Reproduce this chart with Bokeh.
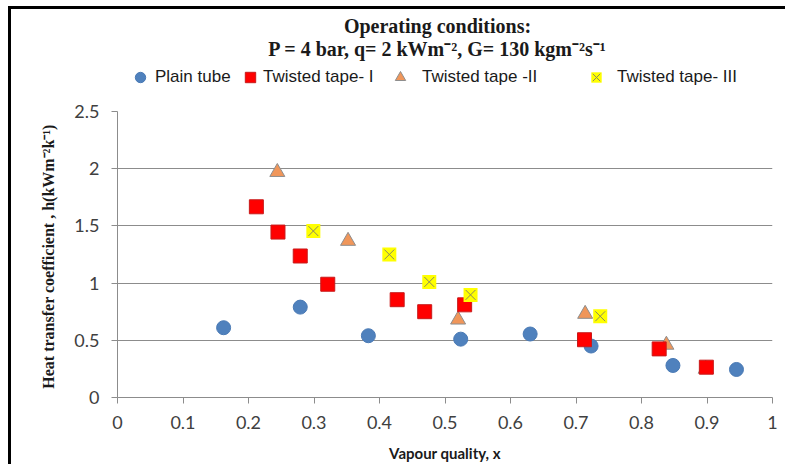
from bokeh.plotting import figure
from bokeh.models import FixedTicker, Legend, LegendItem, Label, Range1d
from bokeh.layouts import column
from bokeh.embed import file_html
from bokeh.resources import INLINE

# ---- data ----
plain_x = [0.162, 0.279, 0.383, 0.524, 0.630, 0.723, 0.848, 0.945]
plain_y = [0.61, 0.79, 0.54, 0.51, 0.555, 0.45, 0.28, 0.245]

tt1_x = [0.212, 0.245, 0.279, 0.321, 0.427, 0.469, 0.530, 0.713, 0.827, 0.899]
tt1_y = [1.667, 1.446, 1.237, 0.99, 0.855, 0.75, 0.81, 0.505, 0.425, 0.265]

tt2_x = [0.244, 0.352, 0.520, 0.714, 0.838, 0.898]
tt2_y = [1.97, 1.368, 0.68, 0.73, 0.46, 0.25]

tt3_x = [0.299, 0.415, 0.476, 0.539, 0.737]
tt3_y = [1.455, 1.25, 1.01, 0.897, 0.71]

x_ticks = [0, 0.1, 0.2, 0.3, 0.4, 0.5, 0.6, 0.7, 0.8, 0.9, 1.0]
x_tick_labels = ["0", "0.1", "0.2", "0.3", "0.4", "0.5", "0.6", "0.7", "0.8", "0.9", "1"]
y_ticks = [0, 0.5, 1.0, 1.5, 2.0, 2.5]
y_tick_labels = ["0", "0.5", "1", "1.5", "2", "2.5"]

series_names = ["Plain tube", "Twisted tape- I", "Twisted tape -II", "Twisted tape- III"]
title_lines = ["Operating conditions:", "P = 4 bar, q= 2 kWm\u207b\u00b2, G= 130 kgm\u207b\u00b2s\u207b\u00b9"]
x_label = "Vapour quality, x"
y_label = "Heat transfer coefficient  , h(kWm\u207b\u00b2k\u207b\u00b9)"

# ---- marker styles ----
STY_PLAIN = dict(marker="circle", fill_color="#4F81BD", line_color="#4A7AB5", line_width=1)
STY_TT1 = dict(marker="square", fill_color="#FF0000", line_color="#C81A1A", line_width=1)
STY_TT2 = dict(marker="triangle", fill_color="#F0965A", line_color="#8E8E8E", line_width=1)
STY_TT3_BOX = dict(marker="square", fill_color="#FFFF00", line_color=None)
STY_TT3_X = dict(marker="x", line_color="#8A8A60", line_width=1)

# ---- header figure: title and legend (its data sit outside its view) ----
head = figure(width=777, height=95, x_range=Range1d(0, 1), y_range=Range1d(10, 11),
              output_backend="svg", toolbar_location=None, title_location=None,
              x_axis_type=None, y_axis_type=None,
              min_border_left=0, min_border_right=0, min_border_top=0, min_border_bottom=0)
head.margin = (6, 0, 0, 8)
head.styles = {"border-left": "3px solid black", "border-top": "3px solid black"}
head.outline_line_color = None
head.xgrid.visible = False
head.ygrid.visible = False

for txt, ty in zip(title_lines, [79, 56]):
    head.add_layout(Label(x=320, y=ty, x_units="screen", y_units="screen", text=txt,
                          text_align="center", text_baseline="middle",
                          text_font="Liberation Serif", text_font_style="bold",
                          text_font_size="20px", text_color="#1a1a1a"))

h0 = head.scatter(plain_x, plain_y, size=14, **STY_PLAIN)
h1 = head.scatter(tt1_x, tt1_y, size=14, **STY_TT1)
h2 = head.scatter(tt2_x, tt2_y, size=14, **STY_TT2)
h3a = head.scatter(tt3_x, tt3_y, size=14, **STY_TT3_BOX)
h3b = head.scatter(tt3_x, tt3_y, size=14, **STY_TT3_X)

legend_x = [10, 120, 270, 466]
legend_standoff = [2, 0, 9, 8]
for name, rends, lx, so in zip(series_names, [[h0], [h1], [h2], [h3a, h3b]], legend_x, legend_standoff):
    lg = Legend(items=[LegendItem(label=name, renderers=rends)],
                location=(lx, 14), orientation="horizontal",
                glyph_width=26, glyph_height=26, label_standoff=so,
                padding=0, margin=0, spacing=0,
                border_line_color=None, background_fill_alpha=0,
                label_text_font="Liberation Sans", label_text_font_size="17px",
                label_text_color="#1a1a1a")
    head.add_layout(lg, "center")

# ---- main figure ----
p = figure(width=777, height=363, x_range=(0, 1), y_range=(0, 2.5),
           output_backend="svg", toolbar_location=None, title_location=None,
           min_border_left=106, min_border_right=16, min_border_top=10, min_border_bottom=66)
p.margin = (0, 0, 0, 8)
p.styles = {"border-left": "3px solid black"}
p.outline_line_color = None

GRID = "#8c8c8c"
TICKC = "#404040"

p.xgrid.visible = False
p.ygrid.grid_line_color = GRID
p.ygrid.grid_line_width = 1
p.ygrid.ticker = FixedTicker(ticks=y_ticks)

for ax in (p.xaxis[0], p.yaxis[0]):
    ax.axis_line_color = GRID
    ax.major_tick_line_color = GRID
    ax.minor_tick_line_color = None
    ax.major_tick_in = 0
    ax.major_tick_out = 6
    ax.major_label_text_font = "Lato"
    ax.major_label_text_font_size = "18px"
    ax.major_label_text_color = TICKC

p.xaxis.ticker = FixedTicker(ticks=x_ticks)
p.xaxis.major_label_overrides = {t: l for t, l in zip(x_ticks, x_tick_labels)}
p.yaxis.ticker = FixedTicker(ticks=y_ticks)
p.yaxis.major_label_overrides = {t: l for t, l in zip(y_ticks, y_tick_labels)}
p.xaxis.major_label_standoff = 12
p.yaxis.major_label_standoff = 12

p.xaxis.axis_label = x_label
p.xaxis.axis_label_text_font = "Lato"
p.xaxis.axis_label_text_font_style = "bold"
p.xaxis.axis_label_text_font_size = "15px"
p.xaxis.axis_label_text_color = "#1a1a1a"
p.xaxis.axis_label_standoff = 12

p.yaxis.axis_label = y_label
p.yaxis.axis_label_text_font = "Liberation Serif"
p.yaxis.axis_label_text_font_style = "bold"
p.yaxis.axis_label_text_font_size = "16px"
p.yaxis.axis_label_text_color = "#1a1a1a"
p.yaxis.axis_label_standoff = 14

p.scatter(plain_x, plain_y, size=14, **STY_PLAIN)
p.scatter(tt2_x, tt2_y, size=15, **STY_TT2)
p.scatter(tt1_x, tt1_y, size=14, **STY_TT1)
p.scatter(tt3_x, tt3_y, size=14, **STY_TT3_BOX)
p.scatter(tt3_x, tt3_y, size=14, **STY_TT3_X)

layout = column(head, p, spacing=0)
open("out.html", "w").write(file_html(layout, INLINE))
